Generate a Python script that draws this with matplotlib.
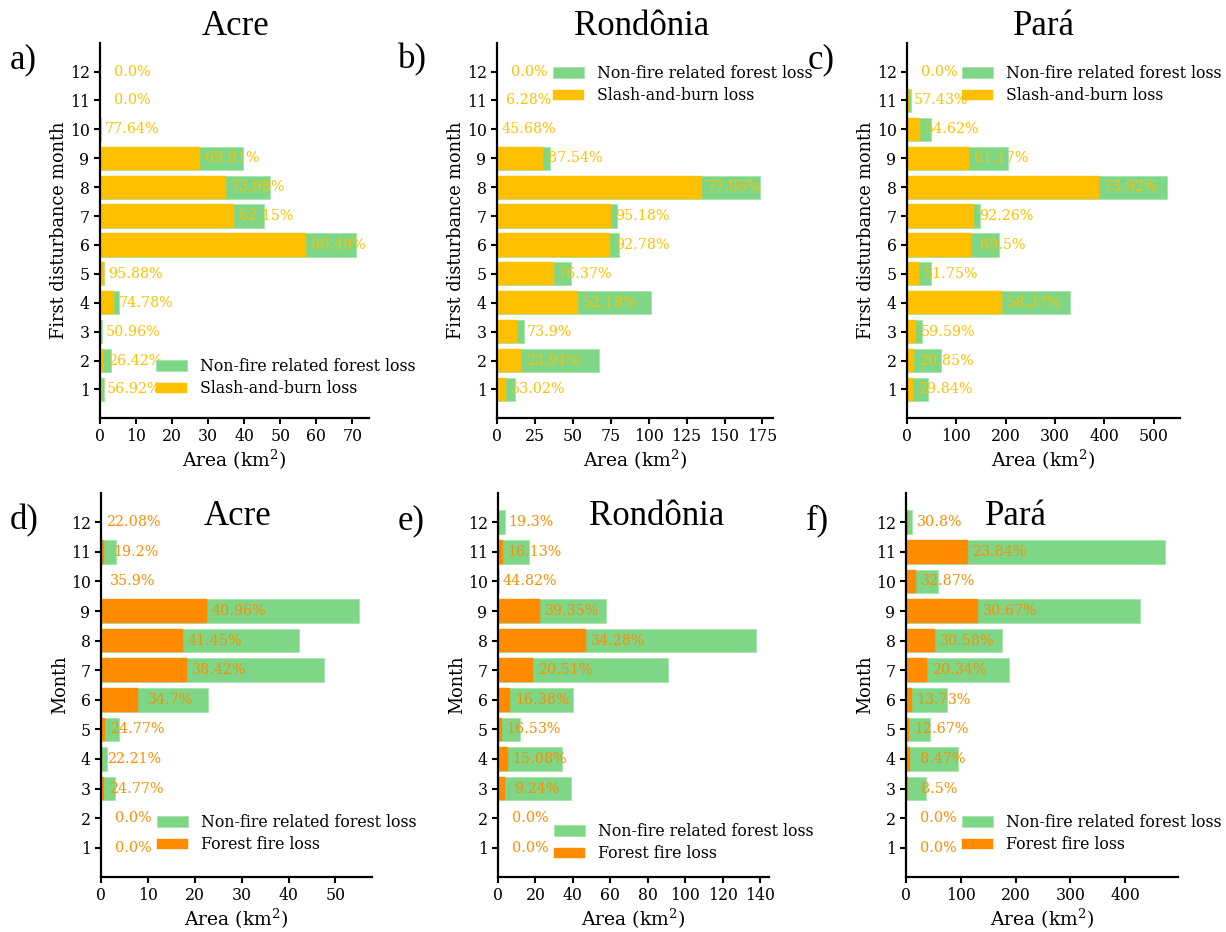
import matplotlib
matplotlib.use("Agg")
import matplotlib.pyplot as plt
from matplotlib.ticker import MultipleLocator
import numpy as np

plt.rcParams['font.family'] = ['DejaVu Serif']
plt.rcParams['mathtext.fontset'] = 'dejavuserif'

months = list(range(1, 13))

# Top row: slash-and-burn (total loss area km2, slash-and-burn share %)
acre_sb_total = [1.12, 3.09, 0.55, 5.33, 1.05, 71.1, 45.4, 47.26, 39.8, 0.15, 0.0, 0.0]
acre_sb_pct = [56.92, 26.42, 50.96, 74.78, 95.88, 80.49, 82.15, 73.98, 69.81, 77.64, 0.0, 0.0]
ro_sb_total = [11.7, 67.3, 17.9, 101.8, 48.8, 80.4, 78.8, 173.3, 34.7, 0.3, 0.1, 0.0]
ro_sb_pct = [53.02, 23.91, 73.9, 52.18, 76.37, 92.78, 95.18, 77.95, 87.54, 45.68, 6.28, 0.0]
pa_sb_total = [43.2, 68.2, 29.7, 329.7, 48.6, 185.8, 147.3, 527.0, 205.0, 48.6, 8.8, 0.0]
pa_sb_pct = [29.84, 20.85, 59.59, 58.37, 51.75, 69.5, 92.26, 73.92, 61.17, 54.62, 57.43, 0.0]

# Bottom row: forest fire (total loss area km2, forest fire share %)
acre_ff_total = [0.0, 0.0, 2.99, 1.35, 3.77, 22.9, 47.65, 42.3, 55.06, 0.05, 3.28, 0.1]
acre_ff_pct = [0.0, 0.0, 24.77, 22.21, 24.77, 34.7, 38.42, 41.45, 40.96, 35.9, 19.2, 22.08]
ro_ff_total = [0.0, 0.0, 39.2, 34.4, 11.8, 40.3, 90.96, 137.9, 57.6, 0.3, 16.4, 3.9]
ro_ff_pct = [0.0, 0.0, 9.24, 15.08, 16.53, 16.38, 20.51, 34.28, 39.35, 44.82, 16.13, 19.3]
pa_ff_total = [0.0, 0.0, 36.0, 95.3, 44.6, 75.1, 188.7, 175.3, 426.9, 58.0, 472.7, 11.0]
pa_ff_pct = [0.0, 0.0, 8.5, 8.47, 12.67, 13.73, 20.34, 30.58, 30.67, 32.87, 23.84, 30.8]

titles = ['Acre', 'Rondônia', 'Pará', 'Acre', 'Rondônia', 'Pará']
letters = ['a)', 'b)', 'c)', 'd)', 'e)', 'f)']
x_steps = [10, 25, 100, 10, 20, 100]

GREEN = '#7dd787'
YELLOW = '#ffc000'
ORANGE = '#ff8c00'

W, H = 1226, 932
fig = plt.figure(figsize=(W / 100, H / 100), dpi=100)


def px_axes(left, top, right, bottom):
    return fig.add_axes([left / W, 1 - bottom / H, (right - left) / W, (bottom - top) / H])


panels = [
    dict(box=(100, 43, 369, 418), total=acre_sb_total, pct=acre_sb_pct, color=YELLOW,
         lab='Slash-and-burn loss', ylab='First disturbance month',
         title_xy=(236, 35), letter_xy=(10, 68), leg_xy=(156, 358)),
    dict(box=(497, 43, 773, 418), total=ro_sb_total, pct=ro_sb_pct, color=YELLOW,
         lab='Slash-and-burn loss', ylab='First disturbance month',
         title_xy=(642, 35), letter_xy=(398, 68), leg_xy=(553, 65)),
    dict(box=(907, 43, 1180, 418), total=pa_sb_total, pct=pa_sb_pct, color=YELLOW,
         lab='Slash-and-burn loss', ylab='First disturbance month',
         title_xy=(1044, 35), letter_xy=(808, 68), leg_xy=(962, 65)),
    dict(box=(101, 493, 372, 877), total=acre_ff_total, pct=acre_ff_pct, color=ORANGE,
         lab='Forest fire loss', ylab='Month',
         title_xy=(238, 525), letter_xy=(10, 529), leg_xy=(157, 814)),
    dict(box=(498, 493, 769, 877), total=ro_ff_total, pct=ro_ff_pct, color=ORANGE,
         lab='Forest fire loss', ylab='Month',
         title_xy=(657, 525), letter_xy=(398, 529), leg_xy=(554, 823)),
    dict(box=(906, 493, 1178, 877), total=pa_ff_total, pct=pa_ff_pct, color=ORANGE,
         lab='Forest fire loss', ylab='Month',
         title_xy=(1016, 525), letter_xy=(806, 529), leg_xy=(962, 814)),
]

for i, p in enumerate(panels):
    ax = px_axes(*p['box'])
    total = np.array(p['total'])
    pct = np.array(p['pct'])
    part = total * pct / 100.0
    ax.barh(months, total, height=0.8, color=GREEN, edgecolor='#a6e6ab', linewidth=0.6,
            label='Non-fire related forest loss')
    ax.barh(months, part, height=0.8, color=p['color'], edgecolor=p['color'], linewidth=0.3,
            label=p['lab'])
    for m, v, q in zip(months, part, pct):
        ax.annotate(f"{q}%", xy=(v, m), xytext=(23, 0), textcoords='offset points',
                    ha='center', va='center', fontsize=10.3, color=p['color'])
    ax.set_yticks(months)
    ax.set_yticklabels([str(m) for m in months])
    ax.xaxis.set_major_locator(MultipleLocator(x_steps[i]))
    ax.tick_params(axis='both', labelsize=11.3, width=1.5, length=4, colors='black')
    for s in ['top', 'right']:
        ax.spines[s].set_visible(False)
    for s in ['left', 'bottom']:
        ax.spines[s].set_linewidth(1.6)
    ax.set_xlabel('Area (km$^2$)', fontsize=13.5, labelpad=2)
    ax.set_ylabel(p['ylab'], fontsize=12.8, labelpad=1)
    ax.legend(loc='upper left', bbox_to_anchor=(p['leg_xy'][0] / W, 1 - p['leg_xy'][1] / H),
              bbox_transform=fig.transFigure, frameon=False, fontsize=11.3,
              borderpad=0, borderaxespad=0, labelspacing=0.35)
    fig.text(p['title_xy'][0] / W, 1 - p['title_xy'][1] / H, titles[i],
             family='Liberation Serif', fontsize=25, ha='center', va='baseline')
    fig.text(p['letter_xy'][0] / W, 1 - p['letter_xy'][1] / H, letters[i],
             family='Liberation Serif', fontsize=25, ha='left', va='baseline')

fig.savefig('out.png', dpi=100)
